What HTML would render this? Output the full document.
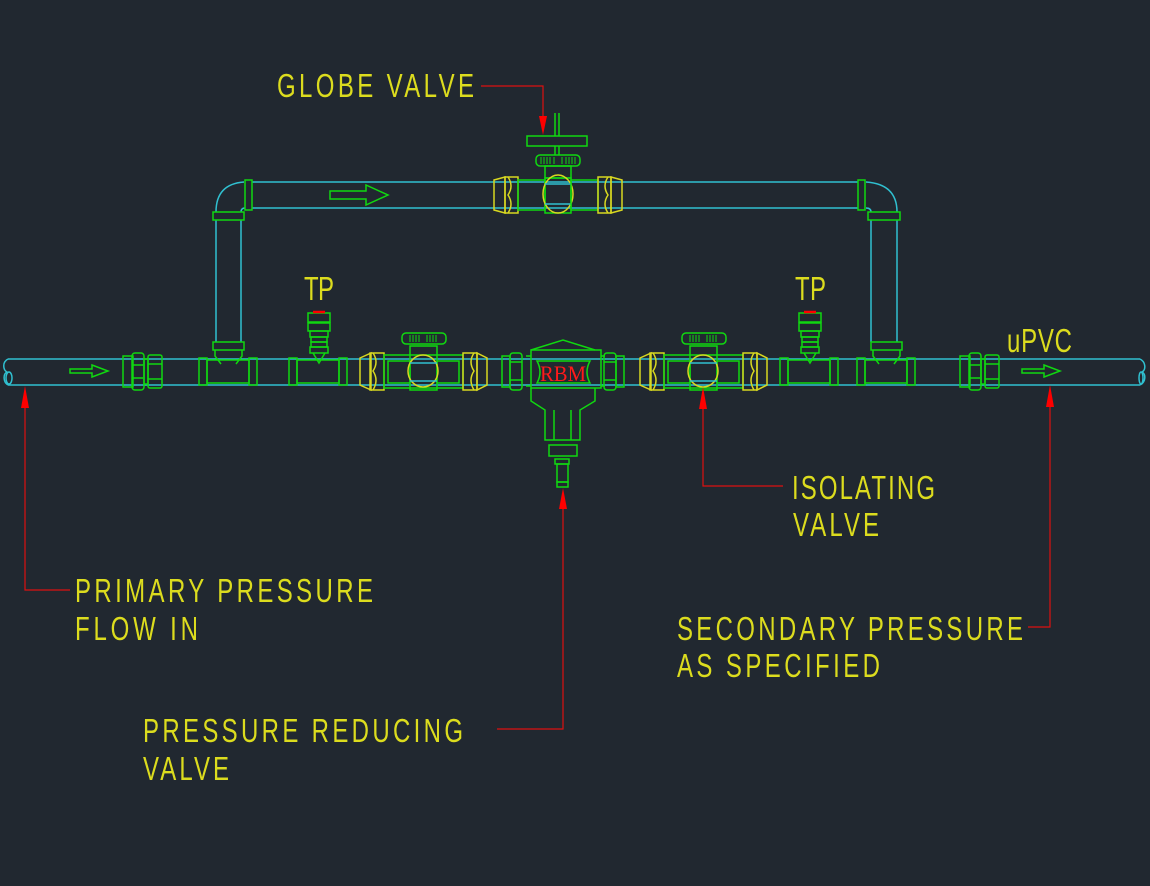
<!DOCTYPE html>
<html><head><meta charset="utf-8"><style>
html,body{margin:0;padding:0;background:#212830;}
svg{display:block}
text{font-family:"Liberation Sans",sans-serif;fill:#dcdc1e;font-size:24px;}
</style></head><body>
<svg width="1150" height="886" viewBox="0 0 1150 886" xmlns="http://www.w3.org/2000/svg">
<rect width="1150" height="886" fill="#212830"/>
<defs>
<g id="ivalve" fill="none" stroke-width="1.5">
  <path d="M0,-13 L11,-18 L11,19 L0,14 Z" stroke="#d8d820"/>
  <rect x="10" y="-18" width="14" height="37" stroke="#d8d820"/>
  <path d="M13,-18 Q19,-9 13,0 Q19,9 13,19" stroke="#d8d820"/>
  <rect x="24" y="-16" width="79" height="33" stroke="#10d810"/>
  <rect x="28" y="-10" width="22" height="22" stroke="#10d810"/>
  <rect x="77" y="-10" width="22" height="22" stroke="#10d810"/>
  <rect x="50" y="-25" width="27" height="44" stroke="#10d810"/>
  <ellipse cx="63" cy="0" rx="15" ry="16" stroke="#d8d820"/>
  <line x1="50" y1="-8" x2="77" y2="-8" stroke="#30c0d0"/>
  <line x1="50" y1="10" x2="77" y2="10" stroke="#30c0d0"/>
  <rect x="42" y="-38" width="44" height="11" rx="4" stroke="#10d810"/>
  <path d="M50,-36 v7 M53,-36 v7 M56,-36 v7 M59,-36 v7 M67,-36 v7 M70,-36 v7 M73,-36 v7 M76,-36 v7" stroke="#10d810" stroke-width="1"/>
  <rect x="103" y="-18" width="14" height="37" stroke="#d8d820"/>
  <path d="M114,-18 Q108,-9 114,0 Q108,9 114,19" stroke="#d8d820"/>
  <path d="M117,-18 L127,-13 L127,14 L117,19 Z" stroke="#d8d820"/>
</g>
<g id="tp" fill="none" stroke="#10d810" stroke-width="1.5">
  <rect x="0" y="-13" width="8" height="27" />
  <rect x="8" y="-11" width="42" height="23"/>
  <rect x="50" y="-13" width="8" height="27"/>
  <rect x="19" y="-58" width="22" height="9"/>
  <rect x="19" y="-48" width="22" height="8"/>
  <rect x="21" y="-40" width="18" height="6"/>
  <rect x="22" y="-34" width="16" height="5"/>
  <rect x="22" y="-29" width="16" height="5"/>
  <rect x="21" y="-24" width="18" height="6"/>
  <path d="M24,-18 L30,-8 L36,-18"/>
  <line x1="24" y1="-59" x2="36" y2="-59" stroke="#ff0000" stroke-width="2.5"/>
</g>
<g id="tee" fill="none" stroke="#10d810" stroke-width="1.5">
  <rect x="0" y="-13" width="8" height="27"/>
  <rect x="8" y="-11" width="42" height="23"/>
  <rect x="50" y="-13" width="8" height="27"/>
  <rect x="14" y="-29" width="31" height="8"/>
  <path d="M16,-21 L16,-15 L22,-7 M43,-21 L43,-15 L37,-7"/>
</g>
<g id="union" fill="none" stroke="#10d810" stroke-width="1.5">
  <rect x="0" y="-15" width="10" height="31"/>
  <rect x="9" y="-18" width="12" height="37" rx="3"/>
  <path d="M10,-6 h10 M10,7 h10"/>
  <rect x="21" y="-12" width="4" height="25"/>
  <rect x="25" y="-16" width="14" height="33" rx="2"/>
  <path d="M25,-7 h14 M25,8 h14"/>
</g>
</defs>

<g fill="none" stroke="#30c0d0" stroke-width="1.5">
  <line x1="8" y1="359" x2="1140" y2="359"/>
  <line x1="8" y1="385" x2="1140" y2="385"/>
  <path d="M8,359 C2,362 3,370 7,372 C3,374 3,382 8,385"/>
  <ellipse cx="9" cy="378" rx="3" ry="6"/>
  <path d="M1140,359 C1146,362 1146,370 1142,372 C1146,374 1146,382 1140,385"/>
  <ellipse cx="1141" cy="378" rx="2" ry="6"/>
  <line x1="252" y1="182" x2="858" y2="182"/>
  <line x1="252" y1="208" x2="858" y2="208"/>
  <path d="M216,212 Q216,184 244,182"/>
  <path d="M241,212 Q241,208 245,208"/>
  <path d="M897,212 Q897,184 866,182"/>
  <path d="M871,212 Q871,208 866,208"/>
  <line x1="216" y1="220" x2="216" y2="342"/>
  <line x1="241" y1="220" x2="241" y2="342"/>
  <line x1="871" y1="220" x2="871" y2="342"/>
  <line x1="897" y1="220" x2="897" y2="342"/>
</g>
<g fill="none" stroke="#10d810" stroke-width="1.5">
  <rect x="213" y="212" width="31" height="8"/>
  <rect x="868" y="212" width="32" height="8"/>
  <rect x="245" y="180" width="7" height="30"/>
  <rect x="858" y="180" width="7" height="30"/>
  <path d="M70,369 h22 v-4 l16,6 l-16,6 v-4 h-22 z"/>
  <path d="M1022,369 h22 v-4 l16,6 l-16,6 v-4 h-22 z"/>
  <path d="M330,191 h36 v-6 l22,10 l-22,10 v-6 h-36 z"/>
</g>

<use href="#union" x="123" y="371"/>
<use href="#union" x="960" y="371"/>
<use href="#tee" x="199" y="371"/>
<use href="#tee" x="857" y="371"/>
<use href="#tp" x="289" y="371"/>
<use href="#tp" x="780" y="371"/>
<use href="#ivalve" x="360" y="371"/>
<use href="#ivalve" x="640" y="371"/>

<g fill="none" stroke="#10d810" stroke-width="1.5">
  <rect x="502" y="356" width="8" height="31"/>
  <rect x="510" y="353" width="12" height="37" rx="3"/>
  <path d="M510,362 h12 M510,380 h12"/>
  <rect x="604" y="353" width="12" height="37" rx="3"/>
  <path d="M604,362 h12 M604,380 h12"/>
  <rect x="616" y="356" width="8" height="31"/>
  <path d="M531,350 L563,340 L595,350"/>
  <path d="M531,350 h70 v38 h-70 z"/>
  <path d="M526,356 h5 M526,386 h5 M601,356 h4 M601,386 h4"/>
  <path d="M531,388 v13 L545,410 v30 h35 v-30 L595,401 v-13"/>
  <path d="M554,410 v30 M571,410 v30"/>
  <rect x="549" y="445" width="28" height="11"/>
  <rect x="555" y="459" width="14" height="5"/>
  <rect x="557" y="464" width="11" height="18"/>
  <rect x="557" y="482" width="11" height="5"/>
  <path d="M537,361 h53 q-6,11 0,22 h-53 q6,-11 0,-22 z"/>
</g>
<text x="563" y="381" text-anchor="middle" textLength="46" lengthAdjust="spacingAndGlyphs" style="font-family:'Liberation Serif',serif;font-size:22px;fill:#ff1a1a">RBM</text>

<g fill="none" stroke-width="1.5">
  <path d="M494,180 L505,177 L505,213 L494,210 Z" stroke="#d8d820"/>
  <rect x="505" y="177" width="13" height="36" stroke="#d8d820"/>
  <path d="M508,177 Q514,186 508,195 Q514,204 508,213" stroke="#d8d820"/>
  <rect x="518" y="180" width="27" height="30" stroke="#10d810"/>
  <rect x="545" y="178" width="26" height="35" stroke="#10d810"/>
  <rect x="545" y="166" width="26" height="12" stroke="#10d810"/>
  <ellipse cx="558" cy="194" rx="15" ry="19" stroke="#d8d820"/>
  <line x1="545" y1="184" x2="571" y2="184" stroke="#30c0d0"/>
  <line x1="545" y1="204" x2="571" y2="204" stroke="#30c0d0"/>
  <rect x="571" y="180" width="27" height="30" stroke="#10d810"/>
  <rect x="598" y="177" width="13" height="36" stroke="#d8d820"/>
  <path d="M608,177 Q602,186 608,195 Q602,204 608,213" stroke="#d8d820"/>
  <path d="M611,177 L622,180 L622,210 L611,213 Z" stroke="#d8d820"/>
  <rect x="536" y="155" width="44" height="11" rx="4" stroke="#10d810"/>
  <path d="M541,157 v7 M544,157 v7 M547,157 v7 M550,157 v7 M554,157 v7 M562,157 v7 M566,157 v7 M569,157 v7 M572,157 v7 M575,157 v7" stroke="#10d810" stroke-width="1"/>
  <rect x="527" y="136" width="60" height="10" stroke="#10d810"/>
  <path d="M555,113 v23 M559,113 v23 M555,146 v9 M559,146 v9" stroke="#10d810"/>
</g>

<g fill="none" stroke="#dd1010" stroke-width="1.2">
  <path d="M481,86 H543 V120"/>
  <path d="M25,400 V590 H70"/>
  <path d="M497,729 H563 V500"/>
  <path d="M703,400 V486 H783"/>
  <path d="M1050,400 V627 H1028"/>
</g>
<g fill="#ff0000">
  <path d="M539,116 L547,116 L543,135 Z"/>
  <path d="M21,408 L29,408 L25,386 Z"/>
  <path d="M559,509 L567,509 L563,488 Z"/>
  <path d="M699,409 L707,409 L703,387 Z"/>
  <path d="M1046,407 L1054,407 L1050,385 Z"/>
</g>

<text transform="translate(277,97) scale(1,1.38)" textLength="197" lengthAdjust="spacing">GLOBE  VALVE</text>
<text transform="translate(304,300) scale(1,1.38)" textLength="30" lengthAdjust="spacing">TP</text>
<text transform="translate(795,300) scale(1,1.38)" textLength="31" lengthAdjust="spacing">TP</text>
<text transform="translate(1007,352) scale(1,1.38)" textLength="65" lengthAdjust="spacing">uPVC</text>
<text transform="translate(792,499) scale(1,1.38)" textLength="143" lengthAdjust="spacing">ISOLATING</text>
<text transform="translate(793,536) scale(1,1.38)" textLength="86" lengthAdjust="spacing">VALVE</text>
<text transform="translate(75,602) scale(1,1.38)" textLength="298" lengthAdjust="spacing">PRIMARY  PRESSURE</text>
<text transform="translate(75,640) scale(1,1.38)" textLength="123" lengthAdjust="spacing">FLOW  IN</text>
<text transform="translate(677,640) scale(1,1.38)" textLength="346" lengthAdjust="spacing">SECONDARY  PRESSURE</text>
<text transform="translate(677,677) scale(1,1.38)" textLength="203" lengthAdjust="spacing">AS  SPECIFIED</text>
<text transform="translate(143,742) scale(1,1.38)" textLength="320" lengthAdjust="spacing">PRESSURE  REDUCING</text>
<text transform="translate(143,780) scale(1,1.38)" textLength="86" lengthAdjust="spacing">VALVE</text>
</svg>
</body></html>
